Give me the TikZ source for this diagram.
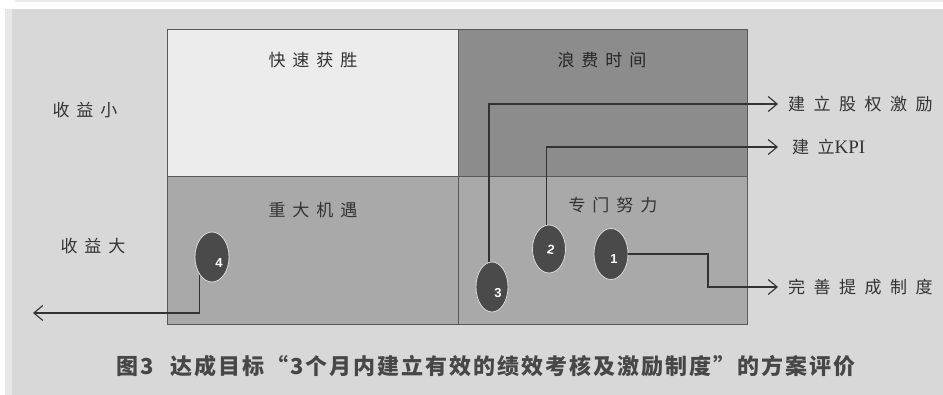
\documentclass[tikz,border=0pt]{standalone}
\usepackage{fontspec}
\setsansfont{Liberation Sans}
\newfontfamily\cjk{Noto Sans CJK SC}
\newfontfamily\cjkcap{Noto Sans CJK SC}[LetterSpace=9]
\newfontfamily\latserif{Liberation Serif}
\usetikzlibrary{shapes.geometric,arrows.meta,calc}
\definecolor{bggrey}{HTML}{D8D8D8}
\definecolor{cellA}{HTML}{ECECEC}
\definecolor{cellB}{HTML}{8C8C8C}
\definecolor{cellC}{HTML}{A9A9A9}
\definecolor{inkc}{HTML}{333333}
\definecolor{ovalc}{HTML}{4A4A4A}
\newcommand{\gp}{\hskip 7pt}
\newcommand{\gq}{\hskip 8.5pt}
\tikzset{
  cjklbl/.style={font=\cjk\fontsize{17}{17}\selectfont, text=inkc, inner sep=0pt},
  sidelbl/.style={cjklbl, anchor=west, inner xsep=10pt},
  oval/.style={ellipse, fill=ovalc, draw=white!85!black, line width=0.8pt, inner sep=0pt},
  digit/.style={font=\sffamily\bfseries\fontsize{13}{13}\selectfont, text=white, inner sep=0pt},
  conn/.style={draw=inkc, line width=1.2pt},
  arr/.style={conn, -{Straight Barb[length=9pt,width=15pt,line width=1.1pt]}},
  cellline/.style={draw=black!65, line width=1pt}
}
\begin{document}
\begin{tikzpicture}[x=1pt,y=-1pt]
\useasboundingbox (0,0) rectangle (943,395);
\fill[white] (0,0) rectangle (943,395);
\fill[black!8] (15,0) rectangle (943,2.5);
\fill[bggrey] (5,9) rectangle (943,395);
\fill[black!9] (5,9) rectangle (12,395);
% cells
\fill[cellA] (167,30) rectangle (458,177);
\fill[cellB] (458,30) rectangle (747,177);
\fill[cellC] (167,177) rectangle (747,325);
\draw[cellline] (167,30) rectangle (747,325);
\draw[cellline] (458,30) -- (458,325);
\draw[cellline] (167,177) -- (747,177);
% cell titles
\node[cjklbl] (t1) at (313,60) {快\gp 速\gp 获\gp 胜};
\node[cjklbl, text=black!85] (t2) at (602,60) {浪\gp 费\gp 时\gp 间};
\node[cjklbl] (t3) at (313,210) {重\gp 大\gp 机\gp 遇};
\node[cjklbl] (t4) at (613,205) {专\gp 门\gp 努\gp 力};
% row labels
\node[cjklbl] (r1) at (85,110) {收\gp 益\gp 小};
\node[cjklbl] (r2) at (93,246) {收\gp 益\gp 大};
% ovals
\node[oval, minimum width=34pt, minimum height=51pt] (e1) at (611,254) {};
\node[oval, minimum width=33pt, minimum height=48pt] (e2) at (549,249) {};
\node[oval, minimum width=32pt, minimum height=50pt] (e3) at (492,287) {};
\node[oval, minimum width=34pt, minimum height=50pt] (e4) at (212,257) {};
\node[digit] (d1) at (614,259) {1};
\node[digit, rotate=-10] (d2) at (551,250) {2};
\node[digit] (d3) at (498,293) {3};
\node[digit] (d4) at (219,263) {4};
% side labels
\node[sidelbl] (l1) at (778,104) {建\gq 立\gq 股\gq 权\gq 激\gq 励};
\node[sidelbl, inner xsep=14pt] (l2) at (778,147) {建\gq 立{\latserif\fontsize{19}{19}\selectfont KPI}};
\node[sidelbl] (l3) at (778,287) {完\gq 善\gq 提\gq 成\gq 制\gq 度};
\coordinate (k1) at (708,253);
\coordinate (w4) at (33,313);
% connectors
\draw[arr] (e3.97) |- (l1.west);
\draw[arr] (e2.95) |- (l2.west);
\draw[arr] (e1.east) -- (e1.east -| k1) |- (l3.west);
\draw[arr] (e4.south west) |- (w4);
% caption
\node[font=\cjkcap\bfseries\fontsize{22}{22}\selectfont, text=black!72, inner sep=0pt] (cap) at (486,366)
  {图3\hskip 16pt 达成目标“3个月内建立有效的绩效考核及激励制度”的方案评价};
\end{tikzpicture}
\end{document}
